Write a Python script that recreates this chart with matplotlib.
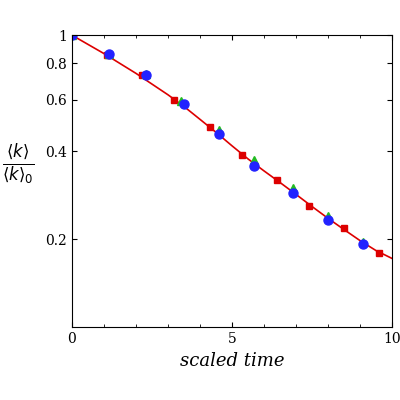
import matplotlib
matplotlib.use("Agg")
import matplotlib.pyplot as plt
from matplotlib.ticker import FixedLocator, NullFormatter, NullLocator

# fitted curve
curve_t = [0, 0.5, 1, 1.5, 2, 2.5, 3, 3.5, 4, 4.5, 5, 5.5, 6, 6.5, 7, 7.5, 8, 8.5, 9, 9.5, 10]
curve_k = [1.0, 0.93, 0.865, 0.80, 0.74, 0.68, 0.625, 0.57, 0.515, 0.465, 0.418, 0.377,
           0.343, 0.313, 0.285, 0.259, 0.236, 0.216, 0.198, 0.183, 0.172]

red_t = [0, 1.1, 2.2, 3.2, 4.3, 5.3, 6.4, 7.4, 8.5, 9.6]
red_k = [1.0, 0.855, 0.73, 0.60, 0.485, 0.39, 0.32, 0.26, 0.218, 0.18]

green_t = [0, 1.15, 2.3, 3.4, 4.6, 5.7, 6.9, 8.0, 9.1]
green_k = [1.0, 0.86, 0.735, 0.595, 0.474, 0.375, 0.30, 0.241, 0.196]

blue_t = [0, 1.15, 2.3, 3.5, 4.6, 5.7, 6.9, 8.0, 9.1]
blue_k = [1.0, 0.86, 0.73, 0.58, 0.46, 0.357, 0.287, 0.232, 0.192]

yticks = [0.2, 0.4, 0.6, 0.8, 1]
ytick_labels = ["0.2", "0.4", "0.6", "0.8", "1"]

plt.rcParams['font.family'] = ['DejaVu Serif']
fig = plt.figure(figsize=(4, 4), dpi=100)
ax = fig.add_axes([0.18, 0.182, 0.80, 0.73])

ax.plot(curve_t, curve_k, color='#dd0000', lw=1.2)
ax.plot(red_t, red_k, 's', color='#dd0000', ms=4)
ax.plot(green_t, green_k, '^', color='#22bb22', ms=6)
ax.plot(blue_t, blue_k, 'o', color='#2222ff', ms=6.5)

ax.set_yscale('log')
ax.set_xlim(0, 10)
ax.set_ylim(0.1, 1.0)
ax.yaxis.set_major_locator(FixedLocator(yticks))
ax.set_yticklabels(ytick_labels)
ax.yaxis.set_minor_locator(NullLocator())
ax.yaxis.set_minor_formatter(NullFormatter())
ax.set_xticks([0, 5, 10])
ax.set_xticks([1, 2, 3, 4, 6, 7, 8, 9], minor=True)
ax.tick_params(direction='in', which='both', top=True, right=True, labelsize=10)

ax.set_xlabel('scaled time', fontsize=13, style='italic')
fig.text(0.045, 0.59, r'$\frac{\langle k\rangle}{\langle k\rangle_0}$', fontsize=17,
         ha='center', va='center')

fig.savefig('out.png', dpi=100)
